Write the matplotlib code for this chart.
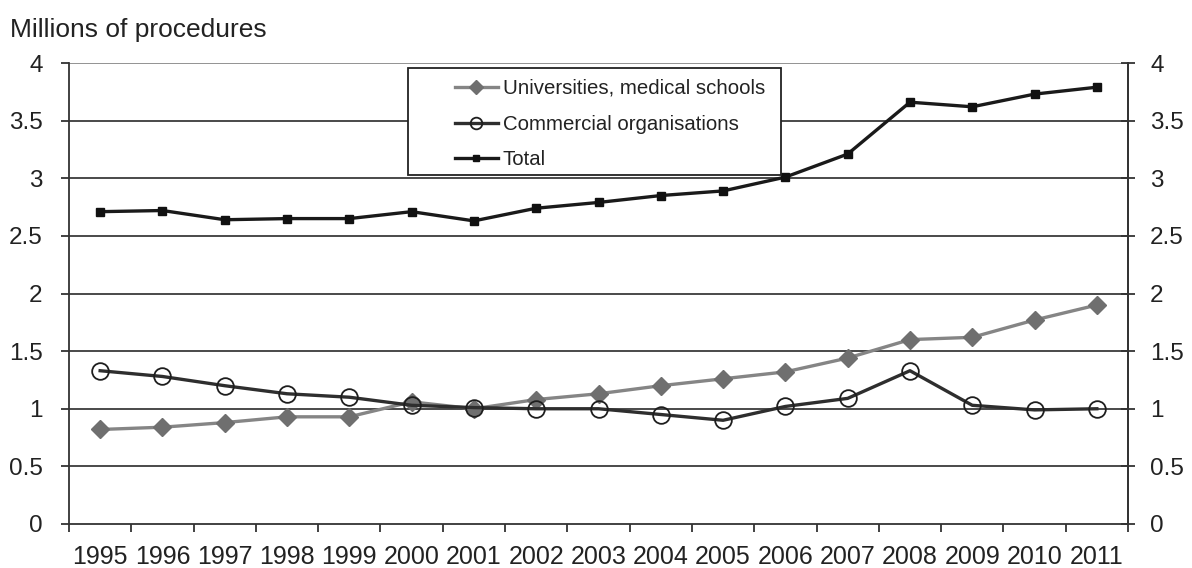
import matplotlib
matplotlib.use("Agg")
import matplotlib.pyplot as plt
from matplotlib.patches import Rectangle
import numpy as np

plt.rcParams['font.family'] = ['Liberation Sans', 'DejaVu Sans']

years = ['1995', '1996', '1997', '1998', '1999', '2000', '2001', '2002', '2003',
         '2004', '2005', '2006', '2007', '2008', '2009', '2010', '2011']
universities = [0.82, 0.84, 0.88, 0.93, 0.93, 1.06, 1.00, 1.08, 1.13,
                1.20, 1.26, 1.32, 1.44, 1.60, 1.62, 1.77, 1.90]
commercial = [1.33, 1.28, 1.20, 1.13, 1.10, 1.03, 1.01, 1.00, 1.00,
              0.95, 0.90, 1.02, 1.09, 1.33, 1.03, 0.99, 1.00]
total = [2.71, 2.72, 2.64, 2.65, 2.65, 2.71, 2.63, 2.74, 2.79,
         2.85, 2.89, 3.01, 3.21, 3.66, 3.62, 3.73, 3.79]
y_ticks = [0, 0.5, 1, 1.5, 2, 2.5, 3, 3.5, 4]
y_labels = ['0', '0.5', '1', '1.5', '2', '2.5', '3', '3.5', '4']

TICK_FS = 17.5
TXT = '#222222'
AX = '#333333'

fig = plt.figure(figsize=(11.92, 5.68), dpi=100)
ax = fig.add_axes([69 / 1192, 1 - 524 / 568, (1128 - 69) / 1192, (524 - 63) / 568])

x = np.arange(len(years))

# horizontal gridlines
for v in y_ticks[1:]:
    ax.axhline(v, color='#8a8a8a' if v == 4 else '#3a3a3a', lw=1.3, zorder=1)

l_uni, = ax.plot(x, universities, color='#858585', lw=2.4, marker='D', ms=9.5,
                 mfc='#6f6f6f', mec='#6f6f6f', zorder=3,
                 label='Universities, medical schools')
l_com, = ax.plot(x, commercial, color='#2e2e2e', lw=2.4, marker='o', ms=12,
                 mfc='none', mec='#1e1e1e', mew=1.3, zorder=4,
                 label='Commercial organisations')
l_tot, = ax.plot(x, total, color='#1a1a1a', lw=2.4, marker='s', ms=5.5,
                 mfc='#111111', mec='#111111', zorder=4, label='Total')

ax.set_xlim(-0.5, len(years) - 0.5)
ax.set_ylim(0, 4)

ax.set_xticks(x)
ax.set_xticklabels(years, fontsize=18, color=TXT)
ax.set_xticks(np.arange(-0.5, len(years), 1), minor=True)
ax.tick_params(axis='x', which='major', length=0, pad=15)
ax.tick_params(axis='x', which='minor', length=6, width=1.3, color=AX, direction='out')

ax.set_yticks(y_ticks)
ax.set_yticklabels(y_labels, fontsize=TICK_FS, color=TXT)
ax.tick_params(axis='y', length=6, width=1.3, color=AX, direction='out', pad=13)

ax.spines['top'].set_visible(False)
for s in ['left', 'right', 'bottom']:
    ax.spines[s].set_color(AX)
    ax.spines[s].set_linewidth(1.3)

ax2 = ax.twinx()
ax2.set_ylim(0, 4)
ax2.set_yticks(y_ticks)
ax2.set_yticklabels(y_labels, fontsize=TICK_FS, color=TXT)
ax2.tick_params(axis='y', length=10, width=1.3, color=AX, direction='inout', pad=11)
for s in ['top', 'left', 'bottom']:
    ax2.spines[s].set_visible(False)
ax2.spines['right'].set_color(AX)
ax2.spines['right'].set_linewidth(1.3)

# legend box
W = 1128 - 69
H = 524 - 63
bx0 = (408 - 69) / W
bx1 = (781 - 69) / W
by0 = (524 - 175) / H
by1 = (524 - 68) / H
ax2.add_patch(Rectangle((bx0, by0), bx1 - bx0, by1 - by0, transform=ax.transAxes,
                        facecolor='white', edgecolor='#222222', lw=1.3, zorder=10))
leg = ax2.legend(handles=[l_uni, l_com, l_tot], loc='upper left',
                 bbox_to_anchor=((455 - 69) / W, (524 - 79) / H),
                 bbox_transform=ax.transAxes, frameon=False, fontsize=14.7,
                 handlelength=2.1, handletextpad=0.25, labelspacing=0.82,
                 borderpad=0, borderaxespad=0, markerscale=0.7)
for t in leg.get_texts():
    t.set_color(TXT)
leg.set_zorder(11)

fig.text(10 / 1192, 1 - 37 / 568, 'Millions of procedures', fontsize=19,
         color=TXT, va='baseline', ha='left')

fig.savefig('out.png', dpi=100)
